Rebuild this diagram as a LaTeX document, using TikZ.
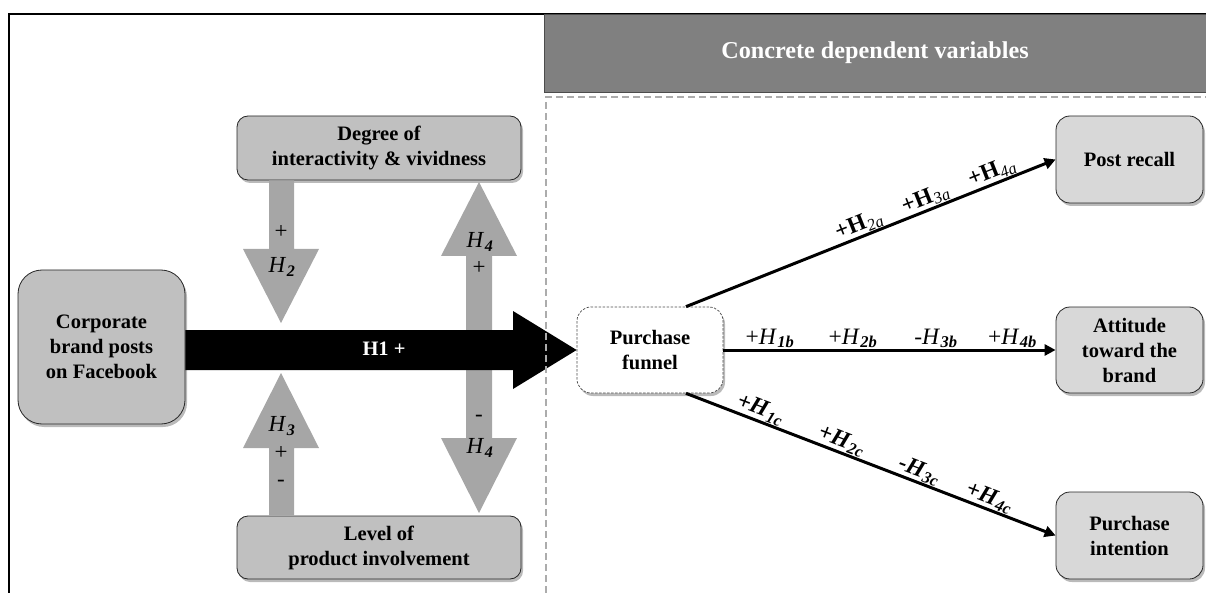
\documentclass[tikz,border=0pt]{standalone}
\usepackage{fontspec}
\setmainfont{Liberation Serif}
\usetikzlibrary{shadows,calc,arrows.meta}
\definecolor{lbox}{RGB}{192,192,192}
\definecolor{rbox}{RGB}{216,216,216}
\definecolor{agray}{RGB}{166,166,166}
\definecolor{hgray}{RGB}{128,128,128}
\definecolor{dgray}{RGB}{172,172,172}
\newcommand{\Hsub}[1]{\textit{H}\kern0.5pt\textsubscript{\textbf{\textit{#1}}}}
\newcommand{\Ha}[1]{\textbf{+H}\kern0.5pt\textsubscript{\textit{#1}}}
\newcommand{\Hb}[2]{#1\textit{H}\kern0.5pt\textsubscript{\textbf{\textit{#2}}}}
\newcommand{\Hc}[2]{\textbf{\textit{#1H}}\kern0.5pt\textsubscript{\textbf{\textit{#2}}}}
\begin{document}
\begin{tikzpicture}[x=1pt,y=-1pt,
  box/.style={draw=black!85, line width=0.8pt, rounded corners=11pt, align=center, inner sep=0pt,
    font=\bfseries\fontsize{20.5}{25}\selectfont,
    drop shadow={shadow xshift=2pt, shadow yshift=-3pt, opacity=0.45, fill=black!60}},
  lbx/.style={box, fill=lbox},
  rbx/.style={box, fill=rbox},
  garrow/.style={fill=agray},
  glab/.style={font=\fontsize{23}{23}\selectfont, inner sep=0pt},
  flow/.style={line width=3pt, -{Triangle[length=11pt,width=11pt]}},
  flab/.style={font=\fontsize{23.5}{23.5}\selectfont, inner sep=0.5pt, sloped, above}
]
\useasboundingbox (0,0) rectangle (1206,593);
% frame
\draw[line width=1.2pt] (9,593) -- (9,14) -- (1206,14);
% header
\node[draw=black!70, line width=0.8pt, fill=hgray, minimum width=662pt, minimum height=78pt, inner sep=0pt,
  font=\bfseries\fontsize{24.2}{25}\selectfont, text=white] (head) at (875,53) {Concrete dependent variables};

% nodes
\node[lbx, minimum width=284pt, minimum height=64pt] (deg) at (379,148) {Degree of\\interactivity \& vividness};
\node[lbx, minimum width=167pt, minimum height=154pt, rounded corners=24pt] (corp) at (101.5,347) {Corporate\\brand posts\\on Facebook};
\node[lbx, minimum width=284pt, minimum height=63pt] (lev) at (379,547.5) {Level of\\product involvement};
\node[box, fill=white, dashed, draw=black!70, line width=0.7pt, dash pattern=on 2.5pt off 1.5pt, minimum width=146pt, minimum height=86pt, rounded corners=14pt] (fun) at (650,350) {Purchase\\funnel};
\node[rbx, minimum width=147pt, minimum height=87pt, rounded corners=14pt] (rec) at (1129.5,159.5) {Post recall};
\node[rbx, minimum width=147pt, minimum height=86pt, rounded corners=14pt] (att) at (1129.5,350) {Attitude\\toward the\\brand};
\node[rbx, minimum width=147pt, minimum height=87pt, rounded corners=14pt] (int) at (1129.5,535.5) {Purchase\\intention};

% gray arrows
\fill[garrow] (deg.south -| 269,0) -- (269,249) -- (243,249) -- (281,323) coordinate (t2) -- (319,249) -- (294,249) -- (deg.south -| 294,0) -- cycle;
\fill[garrow] (lev.north -| 269,0) -- (269,448) -- (243,448) -- (281,373) coordinate (t3) -- (319,448) -- (294,448) -- (lev.north -| 294,0) -- cycle;
\fill[garrow] (479,182) coordinate (t4u) -- (517,256) -- (492,256) -- (492,438) -- (517,438) -- (479,513) coordinate (t4d) -- (441,438) -- (466,438) -- (466,256) -- (441,256) -- cycle;

% black arrow
\fill[black] (corp.east |- 0,330) -- (513,330) -- (513,311) -- (fun.west) -- (513,389) -- (513,370) -- (corp.east |- 0,370) -- cycle;
\node[font=\bfseries\fontsize{20.5}{25}\selectfont, text=white, inner sep=0pt] (h1) at (384,349) {H1 +};

% dashed region
\draw[dgray, line width=2.6pt, dash pattern=on 7pt off 4pt] (546,593) -- (546,97) -- (1206,97);

% gray arrow labels
\node[glab] (p2) at (281,232) {+};
\node[glab] (l2) at (282,267) {\Hsub{2}};
\node[glab] (l4u) at (480,242) {\Hsub{4}};
\node[glab] (p4u) at (479,268) {+};
\node[glab] (l3) at (282,426) {\Hsub{3}};
\node[glab] (p3) at (281,453) {+};
\node[glab] (m3) at (281,483) {-};
\node[glab] (m4d) at (479,418) {-};
\node[glab] (l4d) at (480,448) {\Hsub{4}};

% flows
\draw[flow] ($(fun.north)+(36,0)$) -- (rec.west)
  node[flab, pos=0.48] (a2) {\Ha{2a}}
  node[flab, pos=0.66] (a3) {\Ha{3a}}
  node[flab, pos=0.84] (a4) {\Ha{4a}};
\draw[flow] (fun.east) -- (att.west)
  node[flab, pos=0.14] (b1) {\Hb{+}{1b}}
  node[flab, pos=0.39] (b2) {\Hb{+}{2b}}
  node[flab, pos=0.64] (b3) {\Hb{-}{3b}}
  node[flab, pos=0.87] (b4) {\Hb{+}{4b}};
\draw[flow] ($(fun.south)+(36,0)$) -- (int.west)
  node[flab, pos=0.19] (c1) {\Hc{+}{1c}}
  node[flab, pos=0.41] (c2) {\Hc{+}{2c}}
  node[flab, pos=0.62] (c3) {\Hc{-}{3c}}
  node[flab, pos=0.81] (c4) {\Hc{+}{4c}};
\end{tikzpicture}
\end{document}
